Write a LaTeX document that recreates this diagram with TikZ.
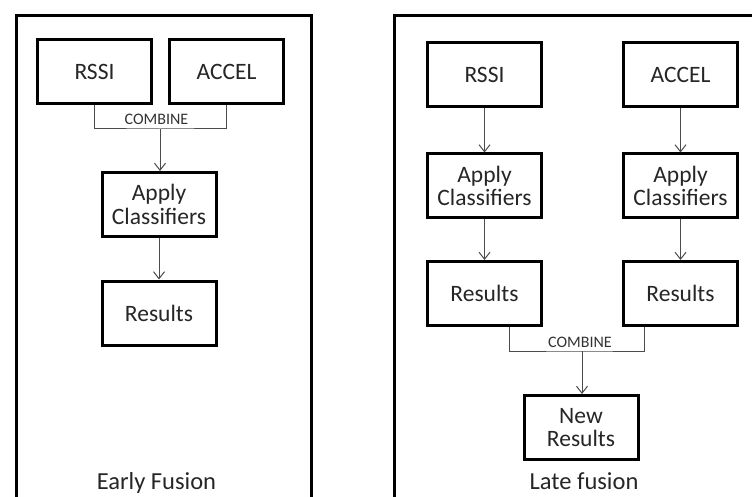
\documentclass[tikz,border=0pt]{standalone}
\usepackage{fontspec}
\setmainfont{Carlito}
\usetikzlibrary{positioning, arrows.meta}
\tikzset{
x=1pt, y=-1pt, % one unit is one pixel of the layout, y runs down
box/.style={draw=black, line width=3pt, minimum width=114pt, minimum height=64pt,
  inner sep=0pt, align=center, text=black!85, font=\fontsize{23.5}{23.5}\selectfont},
frame/.style={draw=black, line width=3pt},
link/.style={draw=black!70, line width=1pt},
arrow/.style={link, -{Straight Barb[length=7pt, width=11pt]}}, % open v-shaped head
tag/.style={text=black!80, inner sep=0pt, font=\fontsize{16}{18}\selectfont},
caption/.style={text=black!85, inner sep=0pt, font=\fontsize{24.5}{26}\selectfont},
}
\begin{document}
\begin{tikzpicture}
    \clip (0,0) rectangle (752,497);
    \fill[white] (0,0) rectangle (752,497);
    % panel frames, open at the bottom and on the far right
    \draw[frame] (16.5,510) -- (16.5,15.5) -- (311.5,15.5) -- (311.5,510);
    \draw[frame] (394.5,510) -- (394.5,15.5) -- (760,15.5);

    % early fusion
    \node[box] (lrssi) at (94.5,72) {RSSI};
    \node[box, right of=lrssi, node distance=132pt] (laccel) {ACCEL};
    \node[box] (lapply) at (159,204.5) {Apply\\Classifiers};
    \node[box, below of=lapply, node distance=108.5pt] (lres) {Results};
    \coordinate (lbar) at (160,129);
    \node[tag, anchor=base] (lcomb) at (156.5,124.5) {COMBINE};
    \node[caption, anchor=base] (lcap) at (156.5,489) {Early Fusion};
    \draw[link] (lrssi.south) |- (lbar) -| (laccel.south);
    \draw[arrow] (lbar) -- (lbar |- lapply.north);
    \draw[arrow] (lapply.south) -- (lres.north);

    % late fusion
    \node[box] (rrssi) at (484.5,75) {RSSI};
    \node[box, right of=rrssi, node distance=196pt] (raccel) {ACCEL};
    \node[box, below of=rrssi, node distance=111pt] (rapply1) {Apply\\Classifiers};
    \node[box, below of=raccel, node distance=111pt] (rapply2) {Apply\\Classifiers};
    \node[box, below of=rapply1, node distance=107.5pt] (rres1) {Results};
    \node[box, below of=rapply2, node distance=107.5pt] (rres2) {Results};
    \node[box] (rnew) at (581,427.5) {New\\Results};
    \coordinate (rbar) at (582,351);
    \node[tag, anchor=base] (rcomb) at (580,347.5) {COMBINE};
    \node[caption, anchor=base] (rcap) at (584,489) {Late fusion};
    \draw[arrow] (rrssi.south) -- (rapply1.north);
    \draw[arrow] (raccel.south) -- (rapply2.north);
    \draw[arrow] (rapply1.south) -- (rres1.north);
    \draw[arrow] (rapply2.south) -- (rres2.north);
    \draw[link] ([xshift=24.5pt]rres1.south) |- (rbar) -| ([xshift=-36.5pt]rres2.south);
    \draw[arrow] (rbar) -- (rbar |- rnew.north);
\end{tikzpicture}
\end{document}
